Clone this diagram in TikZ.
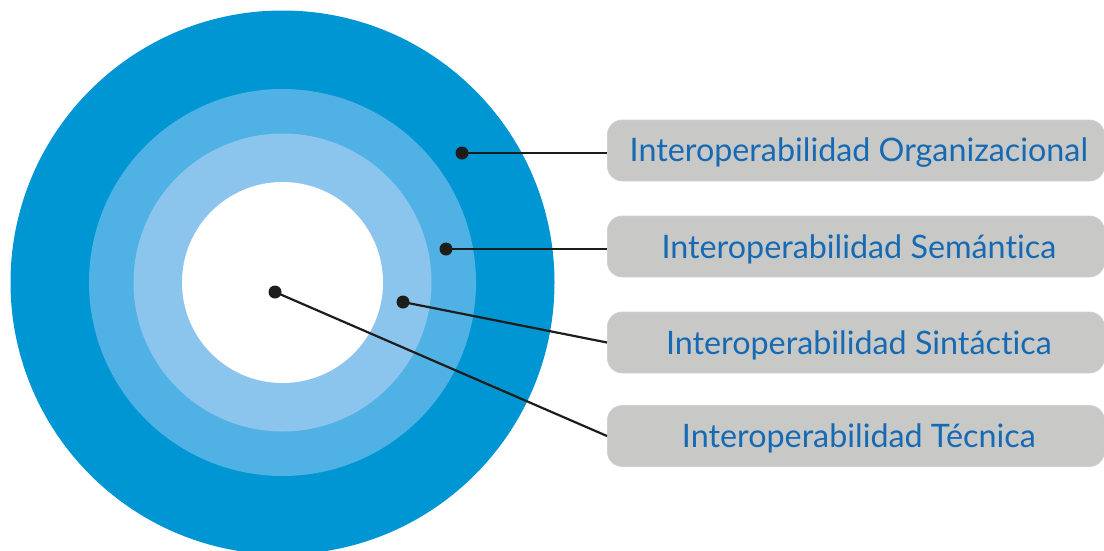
\documentclass[tikz,border=0pt]{standalone}
\usepackage{fontspec}
\setmainfont{Lato}[Ligatures={NoCommon}]
\definecolor{ringA}{RGB}{0,150,212}
\definecolor{ringB}{RGB}{80,178,228}
\definecolor{ringC}{RGB}{139,197,238}
\definecolor{boxgray}{RGB}{200,200,198}
\definecolor{txtblue}{RGB}{22,106,180}
\definecolor{inkline}{RGB}{29,29,27}
\tikzset{
  labelbox/.style={rectangle, rounded corners=15pt, fill=boxgray, draw=boxgray!85!white, line width=0.8pt,
    minimum width=497pt, minimum height=61pt, inner sep=0pt, anchor=west,
    text=txtblue, font=\fontsize{32.3}{34}\selectfont},
  dotmark/.style={circle, fill=inkline, inner sep=0pt, minimum size=13pt},
  leader/.style={draw=inkline, line width=2.2pt}
}
\newcommand{\boxtext}[1]{\hspace*{6pt}\raisebox{-2.5pt}[\height][\depth]{#1}}
\begin{document}
\begin{tikzpicture}[x=1pt,y=-1pt]
\useasboundingbox (0,0) rectangle (1104,550);
\fill[ringA] (282.5,282.5) circle[radius=272];
\fill[ringB] (282.5,282.5) circle[radius=193.5];
\fill[ringC] (282.5,282.5) circle[radius=149];
\fill[white] (282.5,282.5) circle[radius=100.5];

\node[labelbox] (b1) at (607,150.5) {\boxtext{Interoperabilidad Organizacional}};
\node[labelbox] (b2) at (607,246.5) {\boxtext{Interoperabilidad Semántica}};
\node[labelbox] (b3) at (607,342.5) {\boxtext{Interoperabilidad Sintáctica}};
\node[labelbox] (b4) at (607,436) {\boxtext{Interoperabilidad Técnica}};

\node[dotmark] (d1) at (462,153) {};
\node[dotmark] (d2) at (446,249) {};
\node[dotmark] (d3) at (403,302) {};
\node[dotmark] (d4) at (275,292) {};

\draw[leader] (d1.center) -- (b1.west |- d1.center);
\draw[leader] (d2.center) -- (b2.west |- d2.center);
\draw[leader] (d3.center) -- (b3.west);
\draw[leader] (d4.center) -- (b4.west);
\end{tikzpicture}
\end{document}
